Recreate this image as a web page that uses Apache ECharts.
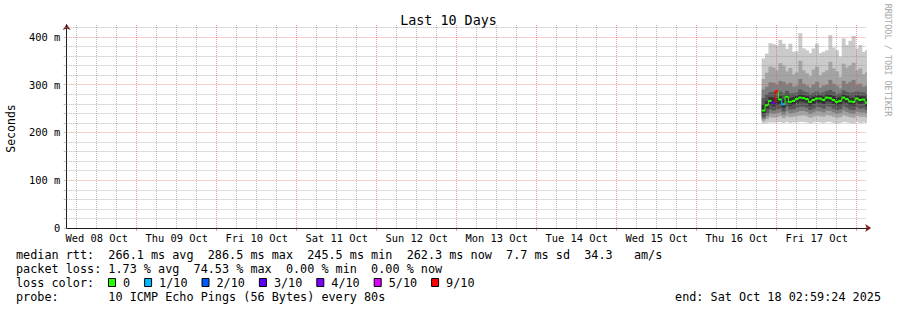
<!DOCTYPE html>
<html>
<head>
<meta charset="utf-8">
<script src="https://cdn.jsdelivr.net/npm/echarts@6/dist/echarts.min.js"></script>
<style>html,body{margin:0;padding:0;background:#fff}#chart{width:897px;height:310px}</style>
</head>
<body>
<div id="chart"></div>
<script>
// ---- data (hours since Wed 08 Oct 00:00, values in ms) ----
const hours = [212,213,214,215,216,217,218,219,220,221,222,223,224,225,226,227,228,229,230,231,232,233,234,235,236,237,238,239,240,241,242,243];
const pingMax = [355,365,387,385,382,394,386,375,386,369,370,408,376,372,366,376,386,366,369,372,404,378,372,359,397,383,392,402,376,383,369,372];
const ping9   = [312,325,338,336,330,345,340,328,335,322,326,350,330,324,318,332,338,320,326,330,348,334,328,316,344,336,340,346,330,334,322,326];
const ping8   = [290,296,305,304,300,308,306,300,304,296,298,312,302,298,294,300,306,294,298,300,310,302,298,292,308,302,306,310,300,302,296,298];
const ping7   = [272,280,284,285,286,286,282,287,282,282,284,290,286,284,280,283,286,282,284,287,289,285,281,282,288,285,283,284,286,284,284,280];
const ping6   = [258,266,274,273,272,276,270,280,272,274,277,280,278,276,272,275,278,277,275,280,279,276,272,274,280,277,273,272,278,276,276,270];
const medianRtt = [246,257,266,262,286.5,269,259,275,264,266,270,273,272,270,264,268,271,271,268,273,272,268,264,266,273,270,265,264,271,268,269,262.3];
const ping5   = [240,250,258,255,258,260,252,266,256,258,262,265,264,262,256,260,263,263,260,265,264,260,256,258,265,262,257,256,263,260,261,255];
const ping4   = [232,240,248,246,249,250,244,254,248,249,252,254,254,252,247,250,254,253,250,255,254,250,247,249,255,252,248,247,253,250,251,247];
const ping3   = [228,234,240,239,241,242,237,244,240,241,243,245,245,243,239,242,245,244,242,246,245,242,239,241,246,243,240,239,244,242,242,240];
const ping2   = [224,228,232,231,232,234,230,234,232,233,234,235,236,234,231,233,235,234,233,236,235,233,231,232,236,234,232,231,235,233,233,232];
const pingMin = [219,220,221,221,221,222,220,222,220,221,221,222,222,221,219,221,222,221,220,222,222,220,219,220,222,221,220,219,222,220,221,220];
const lossCount = [0,0,0,3,9,0,1,0,0,0,0,0,0,0,0,0,0,0,0,0,0,0,0,0,0,0,0,0,0,0,0,0];

const dayLabels = ['Wed 08 Oct','Thu 09 Oct','Fri 10 Oct','Sat 11 Oct','Sun 12 Oct','Mon 13 Oct','Tue 14 Oct','Wed 15 Oct','Thu 16 Oct','Fri 17 Oct'];
const dayNoonHours = [12,36,60,84,108,132,156,180,204,228];
const yTickValues = [0,100,200,300,400];
const yTickLabels = ['0','100 m','200 m','300 m','400 m'];
const lossThresholds = [0,1,2,3,4,5,9];
const lossLegendLabels = ['0','1/10','2/10','3/10','4/10','5/10','9/10'];
const lossLegendColors = ['#26ff00','#00b8ff','#0059ff','#5e00ff','#7e00ff','#dd00ff','#ff0000'];
const statLines = [
  'median rtt:  266.1 ms avg  286.5 ms max  245.5 ms min  262.3 ms now  7.7 ms sd  34.3   am/s',
  'packet loss: 1.73 % avg  74.53 % max  0.00 % min  0.00 % now',
  'loss color:',
  'probe:       10 ICMP Echo Pings (56 Bytes) every 80s'
];
const endLabel = 'end: Sat Oct 18 02:59:24 2025';
const titleText = 'Last 10 Days';
const yAxisTitle = 'Seconds';
const watermark = 'RRDTOOL / TOBI OETIKER';
const startHour = 2.99, endHour = 242.99;
const yMax = 425;

// ---- styling ----
const FONT = "'DejaVu Sans Mono', monospace";
const GRID = 'rgba(143,143,143,0.6)';
const MGRID = 'rgba(222,79,79,0.55)';
const ARROW = '#801f1f';
const AXIS = '#1f1f1f';

const sixHourTicks = [];
for (let h = 6; h <= 240; h += 6) sixHourTicks.push(h);
const midnightTicks = [];
for (let h = 24; h <= 240; h += 24) midnightTicks.push(h);
const yGridTicks = [];
for (let v = 0; v <= 420; v += 20) yGridTicks.push(v);

function lossColor(n) {
  let idx = 0;
  for (let i = 0; i < lossThresholds.length; i++) if (n >= lossThresholds[i]) idx = i;
  return lossLegendColors[idx];
}

const bands = [
  [pingMin, pingMax, '#cacaca'],
  [ping2, ping9, '#a4a4a4'],
  [ping3, ping8, '#7e7e7e'],
  [ping4, ping7, '#585858'],
  [ping5, ping6, '#323232']
];

const series = bands.map(function (b, bi) {
  const lo = b[0], hi = b[1], color = b[2];
  return {
    type: 'custom',
    name: 'smoke' + bi,
    clip: true,
    z: 2 + bi * 0.01,
    silent: true,
    encode: { x: 0, y: [1, 2] },
    data: hours.map(function (h, i) { return [h, lo[i], hi[i]]; }),
    renderItem: function (params, api) {
      const t = api.value(0);
      const p0 = api.coord([t - 0.5, api.value(2)]);
      const p1 = api.coord([t + 0.5, api.value(1)]);
      return {
        type: 'rect',
        shape: { x: p0[0], y: p0[1], width: p1[0] - p0[0] + 0.6, height: p1[1] - p0[1] },
        style: { fill: color }
      };
    }
  };
});

series.push({
  type: 'custom',
  name: 'median',
  clip: true,
  z: 20,
  silent: true,
  encode: { x: 0, y: 1 },
  data: hours.map(function (h, i) { return [h, medianRtt[i], lossCount[i], i > 0 ? medianRtt[i - 1] : medianRtt[i]]; }),
  renderItem: function (params, api) {
    const t = api.value(0), m = api.value(1), loss = api.value(2), prev = api.value(3);
    const a = api.coord([t - 0.5, m]);
    const b = api.coord([t + 0.5, m]);
    const p = api.coord([t - 0.5, prev]);
    const c = lossColor(loss);
    return {
      type: 'group',
      children: [
        { type: 'line', shape: { x1: a[0], y1: p[1], x2: a[0], y2: a[1] }, style: { stroke: c, lineWidth: 1 } },
        { type: 'line', shape: { x1: a[0], y1: a[1], x2: b[0], y2: b[1] }, style: { stroke: c, lineWidth: 2 } }
      ]
    };
  }
});

// ---- static texts ----
const graphics = [];
graphics.push({ type: 'text', x: 11, y: 128.5, rotation: Math.PI / 2, silent: true,
  style: { text: yAxisTitle, align: 'center', verticalAlign: 'middle', font: '11.5px ' + FONT, fill: '#000' } });
graphics.push({ type: 'text', x: 887.5, y: 60, rotation: -Math.PI / 2, silent: true,
  style: { text: watermark, align: 'center', verticalAlign: 'middle', font: '8.5px ' + FONT, fill: '#a8a8a8' } });
statLines.forEach(function (s, i) {
  graphics.push({ type: 'text', x: 16, y: 254.5 + i * 14, silent: true,
    style: { text: s, align: 'left', verticalAlign: 'middle', font: '11.8px ' + FONT, fill: '#000' } });
});
graphics.push({ type: 'text', x: 881, y: 254.5 + 3 * 14, silent: true,
  style: { text: endLabel, align: 'right', verticalAlign: 'middle', font: '11.8px ' + FONT, fill: '#000' } });
let lx = 108.5;
lossLegendLabels.forEach(function (lab, i) {
  graphics.push({ type: 'rect', silent: true, shape: { x: lx, y: 278.5, width: 7, height: 8 },
    style: { fill: lossLegendColors[i], stroke: '#000', lineWidth: 1 } });
  graphics.push({ type: 'text', x: lx + 14.5, y: 254.5 + 2 * 14, silent: true,
    style: { text: lab, align: 'left', verticalAlign: 'middle', font: '11.8px ' + FONT, fill: '#000' } });
  lx += 14.5 + lab.length * 7.1 + 14.5;
});

const option = {
  backgroundColor: '#ffffff',
  animation: false,
  title: { text: titleText, left: 'center', top: 9,
    textStyle: { fontFamily: FONT, fontSize: 13.4, fontWeight: 'normal', color: '#000' } },
  grid: { left: 66.67, right: 30.33, top: 25, bottom: 82, containLabel: false },
  xAxis: [
    { type: 'value', min: startHour, max: endHour, position: 'bottom', z: 10,
      axisLine: { show: true, onZero: false, lineStyle: { color: AXIS, width: 1 } },
      axisTick: { show: false, customValues: sixHourTicks },
      axisLabel: { show: true, customValues: dayNoonHours,
        formatter: function (v) { return dayLabels[dayNoonHours.indexOf(v)]; },
        fontFamily: FONT, fontSize: 10.4, color: '#000', margin: 5 },
      splitLine: { show: true, lineStyle: { color: [GRID, GRID, GRID, MGRID], width: 1, type: [1, 1] } }
    },
    { type: 'value', min: startHour, max: endHour, position: 'bottom', z: 9,
      axisLine: { show: true, onZero: false, lineStyle: { color: ARROW, width: 1 },
        symbol: ['none', 'arrow'], symbolSize: [6, 6], symbolOffset: [0, 4.5] },
      axisTick: { show: true, customValues: midnightTicks, length: 3, lineStyle: { color: MGRID } },
      axisLabel: { show: false },
      splitLine: { show: false }
    }
  ],
  yAxis: [
    { type: 'value', min: 0, max: yMax, position: 'left', z: 10,
      axisLine: { show: true, onZero: false, lineStyle: { color: AXIS, width: 1 } },
      axisTick: { show: true, customValues: yGridTicks, length: 3, lineStyle: { color: GRID } },
      axisLabel: { show: true, customValues: yTickValues,
        formatter: function (v) { return yTickLabels[yTickValues.indexOf(v)]; },
        fontFamily: FONT, fontSize: 10.4, color: '#000', margin: 6.5 },
      splitLine: { show: true, lineStyle: { color: [MGRID, GRID, GRID, GRID, GRID], width: 1, type: [1, 1] } }
    },
    { type: 'value', min: 0, max: yMax, position: 'left', z: 9,
      axisLine: { show: true, onZero: false, lineStyle: { color: ARROW, width: 1 },
        symbol: ['none', 'arrow'], symbolSize: [6, 6], symbolOffset: [0, 1] },
      axisTick: { show: false }, axisLabel: { show: false }, splitLine: { show: false }
    }
  ],
  graphic: graphics,
  series: series
};

const chart = echarts.init(document.getElementById('chart'), null, { renderer: 'svg', width: 897, height: 310 });
chart.setOption(option);
</script>
</body>
</html>
